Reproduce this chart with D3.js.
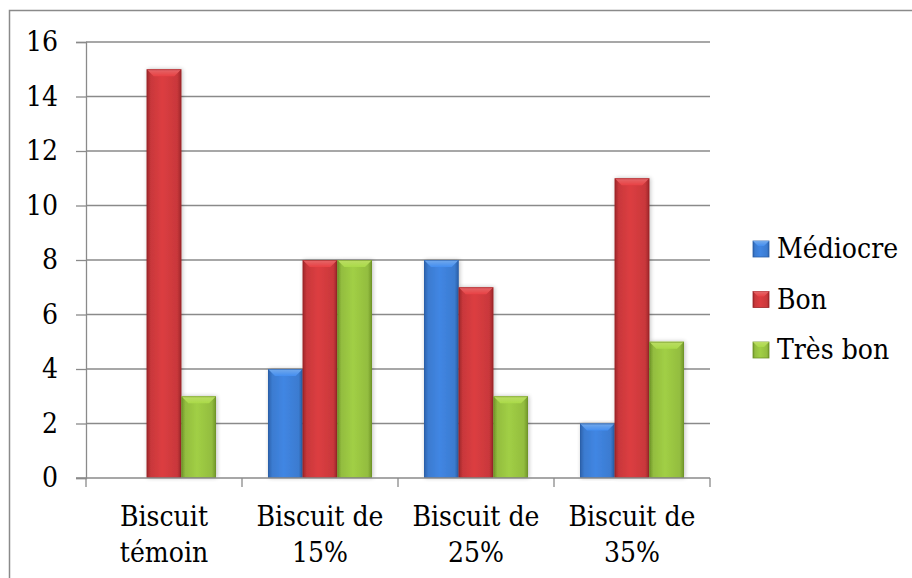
<!DOCTYPE html>
<html>
<head>
<meta charset="utf-8">
<script src="https://cdn.jsdelivr.net/npm/d3@7"></script>
<style>
  html, body { margin: 0; padding: 0; background: #fff; }
  svg { display: block; }
  .lbl { font-family: "DejaVu Serif Condensed", "DejaVu Serif", serif; font-stretch: condensed; font-size: 28px; fill: #000; }
</style>
</head>
<body>
<svg id="chart" width="912" height="578"></svg>
<script>
// Appreciation counts per biscuit formulation
const categories = ["Biscuit témoin", "Biscuit de 15%", "Biscuit de 25%", "Biscuit de 35%"];
const categoryLines = [["Biscuit", "témoin"], ["Biscuit de", "15%"], ["Biscuit de", "25%"], ["Biscuit de", "35%"]];
const seriesNames = ["Médiocre", "Bon", "Très bon"];
const mediocre = [0, 4, 8, 2];
const bon = [15, 8, 7, 11];
const tresBon = [3, 8, 3, 5];
const yTicks = [0, 2, 4, 6, 8, 10, 12, 14, 16];

const seriesValues = [mediocre, bon, tresBon];
const palette = [
  { base: "#3b7bd0", dark: "#2b5fa8", light: "#74aaeb" },
  { base: "#c9383b", dark: "#9c2528", light: "#e4696b" },
  { base: "#93bd3f", dark: "#6f9428", light: "#bcdc66" }
];

const svg = d3.select("#chart");
const margin = { left: 86, right: 202, top: 42, bottom: 100 };
const W = 912, H = 578;
const plotW = W - margin.left - margin.right;   // 624
const plotH = H - margin.top - margin.bottom;   // 436

// outer chart frame
svg.append("rect")
  .attr("x", 9.5).attr("y", 10.5)
  .attr("width", W).attr("height", H)
  .attr("fill", "none").attr("stroke", "#8a8a8a").attr("stroke-width", 1.5);

const defs = svg.append("defs");
palette.forEach((p, i) => {
  const g = defs.append("linearGradient").attr("id", "side" + i)
    .attr("x1", "0").attr("x2", "1").attr("y1", "0").attr("y2", "0");
  g.append("stop").attr("offset", "0").attr("stop-color", p.dark);
  g.append("stop").attr("offset", "0.12").attr("stop-color", p.base);
  g.append("stop").attr("offset", "0.45").attr("stop-color", d3.color(p.base).brighter(0.25));
  g.append("stop").attr("offset", "0.88").attr("stop-color", p.base);
  g.append("stop").attr("offset", "1").attr("stop-color", p.dark);
  const t = defs.append("linearGradient").attr("id", "top" + i)
    .attr("x1", "0").attr("x2", "0").attr("y1", "0").attr("y2", "1");
  t.append("stop").attr("offset", "0").attr("stop-color", p.light);
  t.append("stop").attr("offset", "1").attr("stop-color", d3.color(p.base).brighter(0.4));
});
const shadow = defs.append("filter").attr("id", "shadow")
  .attr("x", "-20%").attr("y", "-5%").attr("width", "140%").attr("height", "110%");
shadow.append("feGaussianBlur").attr("in", "SourceAlpha").attr("stdDeviation", 2).attr("result", "b");
shadow.append("feOffset").attr("in", "b").attr("dx", 1).attr("dy", 0).attr("result", "o");
shadow.append("feComponentTransfer").attr("in", "o").attr("result", "s")
  .append("feFuncA").attr("type", "linear").attr("slope", 0.25);
const merge = shadow.append("feMerge");
merge.append("feMergeNode").attr("in", "s");
merge.append("feMergeNode").attr("in", "SourceGraphic");

const g = svg.append("g").attr("transform", `translate(${margin.left},${margin.top})`);

const y = d3.scaleLinear().domain([0, 16]).range([plotH, 0]);
const x0 = d3.scaleBand().domain(categories).range([0, plotW]).paddingInner(0).paddingOuter(0);
// gap width 150% of a bar: the group fills 3 / 4.5 of each band
const groupW = x0.bandwidth() * 3 / 4.5;
const x1 = d3.scaleBand().domain(seriesNames)
  .range([(x0.bandwidth() - groupW) / 2, (x0.bandwidth() + groupW) / 2]).padding(0);

// horizontal gridlines
g.append("g").selectAll("line").data(yTicks.filter(v => v > 0)).join("line")
  .attr("x1", 0).attr("x2", plotW)
  .attr("y1", d => y(d)).attr("y2", d => y(d))
  .attr("stroke", "#8a8a8a").attr("stroke-width", 1.3);

// y axis
const yAxis = g.append("g")
  .call(d3.axisLeft(y).tickValues(yTicks).tickSize(10).tickPadding(18).tickFormat(d3.format("d")))
  .attr("font-family", null).attr("font-size", null);
yAxis.select(".domain").attr("stroke", "#8a8a8a").attr("stroke-width", 1.3);
yAxis.selectAll(".tick line").attr("stroke", "#8a8a8a").attr("stroke-width", 1.3);
yAxis.selectAll(".tick text").attr("class", "lbl").attr("fill", null);

// bars with bevelled tops
const bevel = 7;
categories.forEach((c, ci) => {
  const grp = g.append("g").attr("transform", `translate(${x0(c)},0)`);
  seriesNames.forEach((s, si) => {
    const v = seriesValues[si][ci];
    if (v <= 0) return;
    const bx = x1(s), bw = x1.bandwidth();
    const by = y(v), bh = y(0) - y(v);
    const bar = grp.append("g").attr("filter", "url(#shadow)");
    bar.append("rect").attr("x", bx).attr("y", by).attr("width", bw).attr("height", bh)
      .attr("fill", `url(#side${si})`);
    bar.append("path")
      .attr("d", `M${bx},${by}L${bx + bw},${by}L${bx + bw - bevel},${by + bevel}L${bx + bevel},${by + bevel}Z`)
      .attr("fill", `url(#top${si})`);
    bar.append("rect").attr("x", bx + 0.5).attr("y", by + 0.5).attr("width", bw - 1).attr("height", bh - 1)
      .attr("fill", "none").attr("stroke", palette[si].dark).attr("stroke-opacity", 0.6).attr("stroke-width", 1);
  });
});

// x axis baseline, category separators and labels
const xa = g.append("g").attr("transform", `translate(0,${plotH})`);
xa.append("line").attr("x1", -10).attr("x2", plotW).attr("y1", 0).attr("y2", 0)
  .attr("stroke", "#8a8a8a").attr("stroke-width", 1.3);
const bounds = categories.map(c => x0(c)).concat([x0.range()[1]]);
xa.selectAll("line.sep").data(bounds).join("line").attr("class", "sep")
  .attr("x1", d => d).attr("x2", d => d).attr("y1", 0).attr("y2", 9)
  .attr("stroke", "#8a8a8a").attr("stroke-width", 1.3);
const labels = xa.selectAll("text.cat").data(categories).join("text").attr("class", "cat lbl")
  .attr("text-anchor", "middle");
labels.each(function (c, i) {
  d3.select(this).selectAll("tspan").data(categoryLines[i]).join("tspan")
    .attr("x", x0(c) + x0.bandwidth() / 2)
    .attr("y", (d, j) => 48 + j * 36)
    .text(d => d);
});

// legend
const legend = svg.append("g").attr("transform", "translate(753,241)");
seriesNames.forEach((s, i) => {
  const row = legend.append("g").attr("transform", `translate(0,${i * 50.5})`);
  row.append("rect").attr("width", 16).attr("height", 16).attr("fill", `url(#side${i})`)
    .attr("stroke", palette[i].dark).attr("stroke-width", 0.8);
  row.append("path").attr("d", "M0,0L16,0L11,5L5,5Z").attr("fill", `url(#top${i})`);
  row.append("text").attr("x", 24).attr("y", 17).attr("class", "lbl").text(s);
});
</script>
</body>
</html>
